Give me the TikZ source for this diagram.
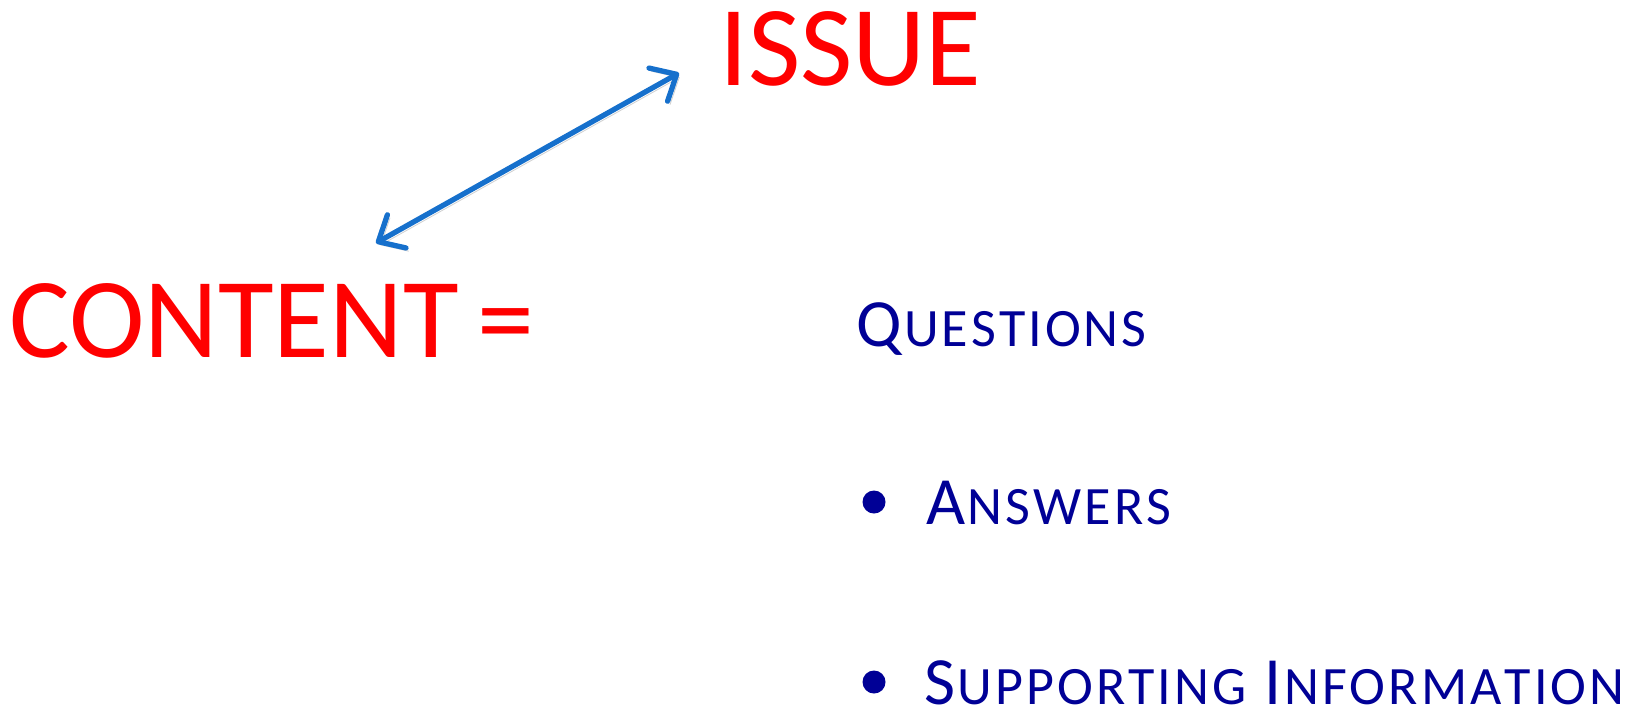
\documentclass[tikz,border=0pt]{standalone}
\usepackage{fontspec}
\setmainfont{Carlito}
\usetikzlibrary{arrows.meta,positioning,calc}
\definecolor{issueRed}{RGB}{255,0,0}
\definecolor{itemBlue}{RGB}{0,0,150}
\definecolor{linkBlue}{RGB}{22,112,204}
% letters with a little extra tracking
\newcommand{\trackIt}[1]{\trackStep#1\relax}
\def\trackStep#1{\ifx#1\relax\else#1\kern1.45pt\expandafter\trackStep\fi}
% capital in full size, rest of the word in smaller capitals
\newcommand{\fakeSC}[2]{{\fontsize{32}{38}\selectfont #1\kern1pt}{\fontsize{25.6}{30}\selectfont\trackIt{#2}}}
\tikzset{
  >={Straight Barb[length=10pt,width=18pt,round]},
  bigLabel/.style={text=issueRed,font=\fontsize{54}{60}\selectfont,inner sep=0pt,anchor=base west},
  itemLabel/.style={text=itemBlue,font=\fontsize{32}{38}\selectfont,inner sep=0pt,anchor=base west},
  bulletDot/.style={circle,fill=itemBlue,minimum size=10.9pt,inner sep=0pt},
  linkArrow/.style={<->,draw=linkBlue,line width=2.5pt,line cap=round,line join=round,
    preaction={draw=black,opacity=0.18,transform canvas={shift={(1.2pt,-1.5pt)}}}},
}

\begin{document}
\begin{tikzpicture}[x=0.4737pt, y=-0.4737pt]
\useasboundingbox (0,0) rectangle (1643,710);

% ===== Main terms =====
\node[bigLabel] (content) at (9,357) {CONTENT\kern-3pt\ =};
\node[bigLabel] (issue) at (719,85) {ISSUE};

% ===== Items =====
\node[itemLabel] (questions) at (856,346) {\fakeSC{Q}{UESTIONS}};
\node[itemLabel] (answers) at (926,524) {\fakeSC{A}{NSWERS}};
\node[itemLabel] (support) at (924,704) {\fakeSC{S}{UPPORTING} \fakeSC{I}{NFORMATION}};
\node[bulletDot] (dotA) at ($(answers.base west)+(-52,-22)$) {};
\node[bulletDot] (dotS) at ($(support.base west)+(-50,-22)$) {};

% ===== Link =====
\draw[linkArrow] ($(content.base west)+(367,-114)$) -- ($(issue.base west)+(-40,-12)$);

\end{tikzpicture}
\end{document}
